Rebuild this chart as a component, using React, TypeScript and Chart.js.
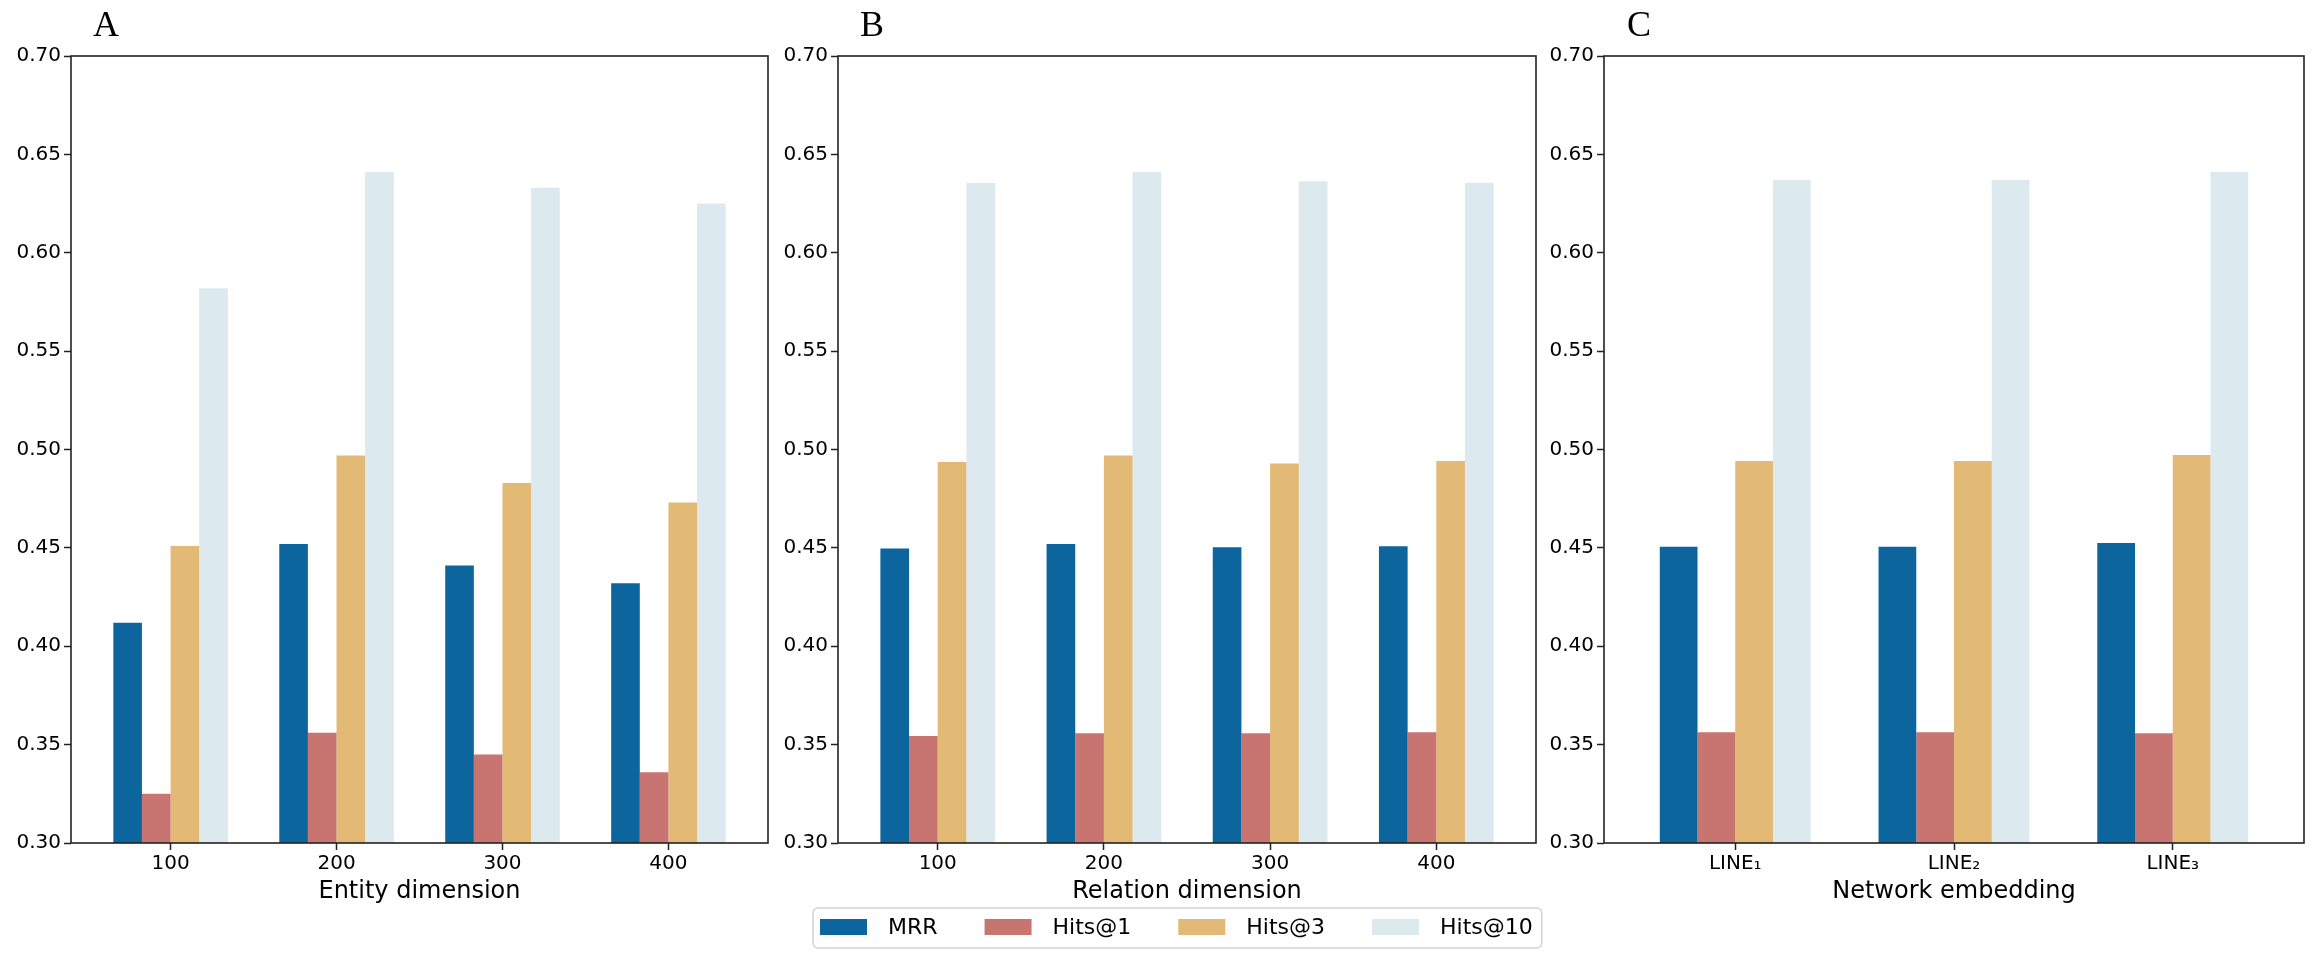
import React, { useEffect, useRef } from "react";
import { Chart, registerables } from "chart.js";

Chart.register(...registerables);

// ---------- data ----------
const seriesNames = ["MRR", "Hits@1", "Hits@3", "Hits@10"];
const seriesColors = ["#0D659D", "#C87572", "#E3B976", "#DCE9EF"];

const entityDims = ["100", "200", "300", "400"];
const entityMRR = [0.412, 0.452, 0.441, 0.432];
const entityHits1 = [0.325, 0.356, 0.345, 0.336];
const entityHits3 = [0.451, 0.497, 0.483, 0.473];
const entityHits10 = [0.582, 0.641, 0.633, 0.625];

const relationDims = ["100", "200", "300", "400"];
const relationMRR = [0.4497, 0.452, 0.4503, 0.4508];
const relationHits1 = [0.3544, 0.3558, 0.3558, 0.3563];
const relationHits3 = [0.4937, 0.497, 0.4929, 0.4942];
const relationHits10 = [0.6354, 0.641, 0.6364, 0.6356];

const networkEmb = ["LINE\u2081", "LINE\u2082", "LINE\u2083"];
const networkMRR = [0.4506, 0.4506, 0.4525];
const networkHits1 = [0.3563, 0.3563, 0.3558];
const networkHits3 = [0.4942, 0.4942, 0.4972];
const networkHits10 = [0.637, 0.637, 0.641];

const yTickValues = [0.3, 0.35, 0.4, 0.45, 0.5, 0.55, 0.6, 0.65, 0.7];

// ---------- layout ----------
const W = 2316;
const H = 959;
const PLOT_TOP = 56;
const X_AXIS_BOTTOM = 906;
const X_AXIS_H = 63;
const Y_AXIS_W = 70;
const FONT = "'DejaVu Sans', sans-serif";

const framePlugin = {
  id: "frame",
  afterDatasetsDraw(chart: any) {
    const { ctx, chartArea: a } = chart;
    ctx.save();
    ctx.strokeStyle = "#222";
    ctx.lineWidth = 1.6;
    ctx.strokeRect(a.left, a.top, a.right - a.left, a.bottom - a.top);
    ctx.restore();
  },
};

function makeLegendPlugin(offsetX: number) {
  return {
    id: "boxLegend",
    afterDraw(chart: any) {
      const ctx = chart.ctx;
      const boxLeft = 813 - offsetX;
      const boxTop = 908;
      const boxH = 40;
      const sw = 47;
      const sh = 16;
      const gap = 21;
      const spacing = 47;
      ctx.save();
      ctx.font = `22px ${FONT}`;
      const ds = chart.data.datasets;
      let total = 0;
      ds.forEach((d: any, i: number) => {
        total += sw + gap + ctx.measureText(d.label).width + (i < ds.length - 1 ? spacing : 0);
      });
      const boxW = total + 16;
      ctx.beginPath();
      (ctx as any).roundRect(boxLeft, boxTop, boxW, boxH, 5);
      ctx.fillStyle = "rgba(255,255,255,0.9)";
      ctx.fill();
      ctx.strokeStyle = "#d2d2d2";
      ctx.lineWidth = 1.5;
      ctx.stroke();
      let x = boxLeft + 7;
      const cy = boxTop + 19;
      ctx.textBaseline = "middle";
      ctx.textAlign = "left";
      ds.forEach((d: any) => {
        ctx.fillStyle = d.backgroundColor;
        ctx.fillRect(x, cy - sh / 2, sw, sh);
        ctx.fillStyle = "#000";
        ctx.fillText(d.label, x + sw + gap, cy + 1);
        x += sw + gap + ctx.measureText(d.label).width + spacing;
      });
      ctx.restore();
    },
  };
}

type PanelProps = {
  plotLeft: number;
  plotWidth: number;
  rightPad: number;
  categories: string[];
  values: number[][];
  xTitle: string;
  withLegend?: boolean;
};

function Panel({ plotLeft, plotWidth, rightPad, categories, values, xTitle, withLegend }: PanelProps) {
  const ref = useRef<HTMLCanvasElement | null>(null);
  const canvasLeft = plotLeft - Y_AXIS_W;
  const canvasWidth = Y_AXIS_W + plotWidth + rightPad;

  useEffect(() => {
    if (!ref.current) return;
    const tickFont = { size: 20, family: FONT };
    const chart = new Chart(ref.current, {
      type: "bar",
      data: {
        datasets: seriesNames.map((name, s) => ({
          label: name,
          data: values[s].map((v, i) => ({ x: i, y: v })),
          backgroundColor: seriesColors[s],
          borderWidth: 0,
          categoryPercentage: 0.69,
          barPercentage: 1,
        })),
      },
      options: {
        responsive: false,
        animation: false,
        devicePixelRatio: 1,
        layout: { padding: { top: PLOT_TOP, bottom: H - X_AXIS_BOTTOM, left: 0, right: rightPad } },
        plugins: { legend: { display: false }, tooltip: { enabled: false } },
        scales: {
          x: {
            type: "linear",
            offset: false,
            min: -0.6,
            max: categories.length - 0.4,
            afterBuildTicks: (s: any) => {
              s.ticks = categories.map((_, i) => ({ value: i }));
            },
            afterFit: (s: any) => {
              s.height = X_AXIS_H;
            },
            ticks: {
              callback: (v: any) => categories[Math.round(Number(v))],
              font: tickFont,
              color: "#000",
              padding: 2,
              maxRotation: 0,
              autoSkip: false,
            },
            grid: {
              offset: false,
              drawOnChartArea: false,
              drawTicks: true,
              tickLength: 7,
              tickColor: "#222",
              tickWidth: 1.5,
            },
            border: { display: false },
            title: { display: true, text: xTitle, font: { size: 24, family: FONT }, color: "#000", padding: 0 },
          },
          y: {
            min: 0.3,
            max: 0.7,
            afterBuildTicks: (s: any) => {
              s.ticks = yTickValues.map((v) => ({ value: v }));
            },
            afterFit: (s: any) => {
              s.width = Y_AXIS_W;
            },
            ticks: {
              callback: (v: any) => Number(v).toFixed(2),
              font: tickFont,
              color: "#000",
              padding: 3,
            },
            grid: { drawOnChartArea: false, drawTicks: true, tickLength: 7, tickColor: "#222", tickWidth: 1.5 },
            border: { display: false },
          },
        },
      } as any,
      plugins: [framePlugin, ...(withLegend ? [makeLegendPlugin(canvasLeft)] : [])],
    });
    return () => chart.destroy();
  }, []);

  return (
    <canvas
      ref={ref}
      width={canvasWidth}
      height={H}
      style={{ position: "absolute", left: canvasLeft, top: 0, width: canvasWidth, height: H }}
    />
  );
}

const letterStyle = (left: number): React.CSSProperties => ({
  position: "absolute",
  left,
  top: 6,
  fontFamily: "'Liberation Serif', 'Times New Roman', serif",
  fontSize: 36,
  lineHeight: 1,
  color: "#000",
});

export default function App() {
  return (
    <div style={{ position: "absolute", left: 0, top: 0, width: W, height: H, background: "#fff", overflow: "hidden" }}>
      <Panel
        plotLeft={71}
        plotWidth={697}
        rightPad={12}
        categories={entityDims}
        values={[entityMRR, entityHits1, entityHits3, entityHits10]}
        xTitle="Entity dimension"
      />
      <Panel
        plotLeft={838}
        plotWidth={698}
        rightPad={24}
        categories={relationDims}
        values={[relationMRR, relationHits1, relationHits3, relationHits10]}
        xTitle="Relation dimension"
        withLegend
      />
      <Panel
        plotLeft={1604}
        plotWidth={700}
        rightPad={10}
        categories={networkEmb}
        values={[networkMRR, networkHits1, networkHits3, networkHits10]}
        xTitle="Network embedding"
      />
      <span style={letterStyle(93)}>A</span>
      <span style={letterStyle(860)}>B</span>
      <span style={letterStyle(1627)}>C</span>
    </div>
  );
}
